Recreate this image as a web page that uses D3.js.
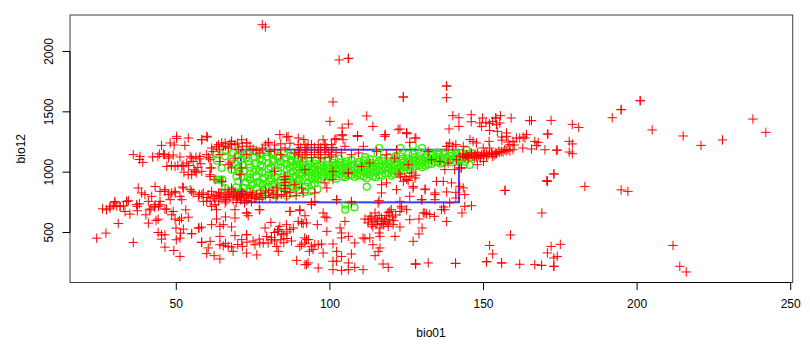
<!DOCTYPE html>
<html>
<head>
<meta charset="utf-8">
<script src="https://cdn.jsdelivr.net/npm/d3@7"></script>
<style>
  html, body { margin: 0; padding: 0; background: #fff; }
  svg { display: block; }
  text { font-family: "Liberation Sans", Arial, sans-serif; font-size: 12px; fill: #000; }
</style>
</head>
<body>
<svg width="810" height="345"></svg>
<script>
var xTicks = [50, 100, 150, 200, 250];
var yTicks = [500, 1000, 1500, 2000];
var xLabel = "bio01";
var yLabel = "bio12";

// envelope drawn as a blue rectangle: [bio01 min, bio01 max], [bio12 min, bio12 max]
var envelopeX = [71, 142];
var envelopeY = [750, 1186];

// presence points, green circles
var greenPoints = [
  [105,730],[105,689],[108,708],[112,880],[127,1222],[130,1200],[123,1200],[116,1200],
  [63.2,1095],[64.8,1035],[68,1021],[63.2,938],[64.2,938],[65,938],[65.9,869],[69.6,965],[62.6,1159],[65.9,1131],
  [70,1140],[71,1105],[71.5,1060],[72,1010],[72,960],[72.5,915],[72,870],[71.5,835],[73,1150],[73.5,1090],[74,1040],[74,985],[74,940],[74.5,890],[74,845],[75,810],
  [75.5,1125],[76,1075],[76,1020],[76,965],[76.5,920],[76,870],[76.5,825],[77.5,1150],[78,1095],[78,1045],[78,995],[78,945],[78,895],[78.5,850],[78,805],
  [79.5,1130],[80,1075],[80,1025],[80,975],[80.5,925],[80,880],[80,830],[81.5,1105],[82,1055],[82,965],[82,905],[82,855],[82,810],
  [83.5,1135],[84,1085],[84,1040],[84,930],[84,880],[84,830],[85.5,1115],[86,1070],[86,1020],[86,975],[86,945],[86,895],[86,850],[86,805],
  [87.5,1095],[88,1055],[88,1005],[88,960],[88,915],[88,870],[88,825],[89.5,1110],[90,1070],[90,1035],[90,990],[90,945],[90,900],[90,850],
  [91.5,1085],[92,1045],[92,1000],[92,960],[92,880],[92,835],[93.5,1065],[94,1025],[94,985],[94,950],[94,890],[94,845],[95.5,1100],[96,1055],[96,1015],[96,975],[96,940],[96,860],
  [97.5,1085],[98,1040],[98,1000],[98,965],[99.5,1060],[100,1020],[100,985],[100,955],[101.5,1105],[102,1065],[102,1025],[102,985],[102,945],
  [103.5,1080],[104,1040],[104,1005],[104,965],[105.5,1090],[106,1050],[106,1010],[106,975],[107.5,1065],[108,1030],[108,995],[108,960],
  [109.5,1085],[110,1045],[110,1010],[110,975],[111.5,1125],[112,1060],[112,1020],[112,985],[112,950],[113.5,1075],[114,1035],[114,1000],[114,965],
  [115.5,1150],[116,1090],[116,1050],[116,1015],[116,975],[117.5,1115],[118,1065],[118,1030],[118,990],[119.5,1090],[120,1050],[120,1010],[120,970],
  [121.5,1135],[122,1075],[122,1035],[122,1000],[123.5,1110],[124,1080],[124,1045],[124,1010],[125.5,1150],[126,1095],[126,1060],[126,1020],
  [127.5,1125],[128,1085],[128,1050],[129.5,1165],[130,1110],[130,1075],[130,1040],[131.5,1140],[132,1100],[132,1065],[133.5,1155],[134,1120],[134,1085],
  [135.5,1145],[136,1105],[136,1070],[137.5,1165],[138,1125],[138,1090],[139.5,1155],[140,1115],[140,1080],[141.5,1140],[142,1105],[143,1160],[143.5,1120],[144,1085],[144.5,1185],[145,1150],[145.5,1060],
  [72.8,1122],[73.6,1063],[75.2,1003],[73.2,958],[75.1,903],[73.8,862],[77.1,1108],[77.4,1058],[76.9,1012],[78.6,958],[77.2,908],[79.2,868],[81.1,1146],[81.4,1088],[80.7,1042],[81.2,992],[80.9,948],[81.3,896],
  [83,1118],[83.4,1062],[83.1,1008],[84.7,958],[83.2,912],[85.2,868],[87.1,1135],[87.2,1082],[86.9,1038],[87.3,992],[87.1,938],[87.4,888],[89.1,1086],[89.3,1048],[89.2,1012],[89,968],[89.4,925],[89.2,878],
  [91.1,1062],[91.2,1018],[91,978],[93.2,1092],[93.1,1045],[93.3,1003],[93,968],[92.8,912],[95,1072],[95.1,1034],[95.3,995],[95.2,958],[95,905],[97.1,1058],[97,1018],[97.3,982],[97.2,948],
  [99.1,1092],[99,1038],[99.2,1003],[99.3,972],[101,1078],[101.2,1043],[101.1,1005],[101,968],[103,1112],[103.2,1058],[103.1,1022],[103.3,985],[105,1068],[105.2,1028],[105.1,992],[105,958],
  [107,1102],[107.2,1048],[107.1,1012],[107,978],[109,1065],[109.2,1028],[109.1,992],[109,972],[111,1098],[111.2,1038],[111.1,1002],[111,962],[113,1108],[113.2,1052],[113.1,1018],[113,982],
  [115,1072],[115.2,1032],[115.1,998],[115,958],[117,1092],[117.2,1048],[117.1,1012],[117,972],[119,1128],[119.2,1068],[119.1,1032],[119,992],[121,1108],[121.2,1062],[121.1,1022],[121,985],
  [123,1132],[123.2,1092],[123.1,1058],[123,1024],[125,1115],[125.2,1078],[125.1,1042],[127,1148],[127.2,1105],[127.1,1068],[127,1032],[129,1132],[129.2,1092],[129.1,1058],[131,1122],[131.2,1085],[131.1,1052],
  [133,1138],[133.2,1102],[133.1,1068],[135,1162],[135.2,1125],[135.1,1088],[137,1148],[137.2,1108],[137.1,1078],[139,1135],[139.2,1098],[141,1160],[141.2,1122],[141.1,1088],[143,1105],[146,1125],[146.5,1155],
  [66,1175],[68.5,1160],[70.5,1180],[73.5,1175],[76,1170],[79,1165],[82,1162],[85,1155],[88,1150],[68,1110],[69,1075],[70,1038],[70.5,1002],[70.2,925],[69.5,875],[70.5,835]
];

// background points, red pluses
var redPoints = [
  [78,2222],[79,2203],[103,1930],[106,1943],[106,1943],[138,1714],[138,1714],[138,1617],[123.9,1623],[123.9,1623],[101,1582],[100,1421],[112,1466],[114,1379],[106,1399],[104,1366],[104,1302],[102,1278],[109,1302],[109,1302],[118,1311],[118,1311],[122.2,1352],[122.8,1358],[125,1325],[125,1325],[128,1283],[126,1247],
  [140,1468],[142,1451],[142,1379],[138.8,1358],[146,1476],[146,1418],[149.7,1449],[148.8,1408],[150.8,1413],[149.4,1379],[152,1402],[153,1421],[154,1449],[154,1449],[154.2,1394],[155.3,1408],[155.5,1468],[152,1346],[154.5,1338],[159,1449],[165,1427],[165.6,1427],[172,1429],[171,1316],
  [157.5,1297],[155.9,1291],[157.5,1325],[159.6,1255],[158.6,1228],[160.7,1283],[161.8,1283],[162.9,1291],[164,1311],[163.5,1283],[166.7,1255],[167.8,1247],[167.3,1220],[170,1186],[173.8,1181],[145.6,1270],[146.6,1255],[151.8,1255],[149.9,1200],[152,1200],[162.8,1200],[165.6,1192],[156,1265],[158,1250],[160,1225],
  [143.4,1131],[144.5,1145],[146.1,1145],[147.2,1145],[148.3,1137],[149.4,1145],[150.4,1159],[151.5,1145],[152.6,1159],[153.7,1145],[154.8,1172],[155.9,1172],[156.9,1186],[158,1186],[159.6,1186],[145,1117],[147,1117],[149,1117],[151,1130],[153,1130],[148,1062],[150,1089],[142.8,1035],[142.8,1035],[146,1159],[150,1130],[148,1160],[154,1160],
  [145.2,1128],[146.6,1133],[147.7,1127],[148.9,1131],[150,1137],[151,1150],[152,1153],[153,1148],[154.2,1155],[155.3,1165],[156.4,1168],[157.4,1178],[158.6,1176],[144,1120],[144.6,1138],[143.2,1150],
  [178.9,1396],[181,1371],[191.9,1451],[194.8,1518],[194.8,1518],[201,1592],[201,1592],[204.9,1350],[215,1300],[220.8,1222],[227.8,1267],[237.7,1440],[241.9,1330],[170.8,1316],[177.9,1255],[178.9,1234],[174,1184],[177.9,1167],[178.9,1153],[172.9,985],[172.9,985],[170.8,924],[170.8,924],[183,882],[194.8,853],[197,841],[169,662],[175,402],[172,385],[211.7,393],[170.8,331],[174,302],[172.9,289],[213.9,220],[216,173],[168.9,228],[168.9,228],[172.9,220],[172.9,220],
  [157,849],[157,849],[158.8,480],[170.6,930],[152,393],[153,322],[151,258],[151,258],[155.9,248],[155.9,248],[161.8,237],[166.7,234],[140.9,244],[140.9,244],[140.9,244],[127.9,239],[127.9,239],[127.9,239],[132,248],
  [143,662],[146.1,722],[143.9,717],[138,592],[134,634],[130.9,662],[136.3,689],[137,711],[130,772],[134.2,828],[138,836],[141,833],[143.9,814],[143.4,869],[141,786],[131,861],[127.1,869],[126,800],[122.8,758],[116,764],[131.5,655],[132.5,650],
  [129,612],[126,606],[130,538],[129,488],[127.1,427],[122.8,546],[121.2,468],[122.8,675],[123.3,703],[120,689],[120.4,629],[119.5,606],[118.2,592],[116.8,620],[117.4,565],[115,565],[116.3,538],[114.7,662],[113.6,620],[112.5,606],[111.4,612],[113.6,565],[120.6,565],[119,551],[117,590],[115.5,595],[118.5,640],[116,640],
  [114.4,592],[112.4,580],[113.1,635],[115,612],[117.8,608],[118.9,578],[120.8,598],[121.4,645],[119,665],[116.7,575],[114,548],
  [116.3,468],[113,455],[110.8,455],[111.4,448],[116,496],[114,399],[116.3,372],[115.7,344],[114.7,308],[117.3,239],[119,211],[110.8,192],[108.1,211],[106,192],[103.8,186],[101,192],[106,248],[101,262],[102.2,262],[96.2,206],[91.9,234],[92.9,248],[103.8,302],[107,322],[102.2,344],[101,405],[108.1,413],[106,468],[103.8,455],[103.3,538],[104.9,592],[103.8,496],[99,510],[98.4,629],[99,622],
  [95.9,565],[91.9,639],[94,731],[90.8,579],[91.3,573],[97.3,405],[95.1,399],[96.2,399],[94,385],[94.5,358],[93.3,344],[97.8,330],[93,441],[90.8,399],[91.9,413],[102.2,772],[107,758],
  [104,1311],[109,1302],[125,1319],[138,1214],[139,1240],[141,1228],[143.4,1214],[147.7,1242],
  [72.9,1242],[80,1242],[86.4,1297],[89.7,1283],[91.5,1270],[92.9,1228],[97.8,1269],[98.4,1228],[101.6,1269],[104.3,1269],[104.9,1214],[103.8,1160],
  [89.7,1228],[91.9,1228],[94,1228],[96.2,1228],[98.4,1228],[100.5,1228],[89.7,1186],[91.9,1186],[94,1186],[96.2,1186],[98.4,1186],[100.5,1186],[89.7,1145],[91.9,1145],[94,1145],[96.2,1145],[98.4,1145],[100.5,1145],[90.5,1205],[92.5,1205],[95,1205],[97,1205],[99,1205],[101,1205],[90,1165],[92.5,1165],[95,1165],[97,1165],[99.5,1165],[102,1165],[91,1125],[94,1120],[97,1120],[100,1125],
  [72.9,1145],[77.2,1159],[80.5,1172],[85.4,1200],[88.6,1159],[82,1007],[85.4,965],[91.9,1021],[101,1007],[106,993],[71.3,1035],[70.7,979],[75,1190],[78,1200],[82,1185],[84,1145],
  [85.4,940],[85.4,915],[85.4,890],[85.4,865],[85.4,840],[82.7,869],[80,828],[85.9,800],[81.5,850],[76.2,814],[71.3,841],[69.7,786],[72.3,786],[74.5,800],[90.8,869],[91.3,828],[88.6,896],[95.1,828],[99,869],[98.4,911],[101,938],[102.2,772],[107,745],[95.1,758],[90.2,689],[94,748],[87,675],[77.2,689],[72.9,662],[97.8,662],[83,810],[78,790],[79,845],[87,830],[89,805],
  [109,1297],[117.9,1297],[127.7,1283],[115.2,1172],[107,1145],[110.9,1214],[109.3,1159],[121.7,1186],[118.4,1145],[121.1,1117],[113,1076],[110.3,1048],[106,993],[125.5,1062],[133.1,1103],[135.8,1089],[138.5,1076],[140,1214],[138.5,1214],[132,1172],[142.3,1131],[141.2,1103],[142.3,1035],[137.4,1021],[140.6,1021],
  [124.4,965],[126.6,993],[127.7,952],[126,965],[123.9,924],[127.1,882],[118.4,911],[121.7,855],[116.8,828],[131,855],[134.2,814],[129.8,772],[134.2,772],[123.3,717],[115.7,745],[139,745],[125,689],[119.5,675],[130.4,662],[137.4,689],[139.6,911],[136.9,924],[134.7,924],[142.3,882],[116.8,896],[125,940],[123,960],[125.5,930],[128,975],[122.5,985],
  [50.1,1297],[50.1,1280],[53.9,1283],[52.8,1222],[48,1242],[49.3,1225],[60.1,1291],[58.3,1269],[36,1145],[38.2,1131],[38,1105],[39.1,1081],[42.3,1126],[44.5,1151],[45.2,1222],[46.1,1145],[45.8,1150],[47.4,1117],[46.9,1048],[49.6,1048],[51.2,1126],[51.8,1048],[54.5,1131],[55.5,1089],[55,1117],[53.4,1076],[55,979],[53.9,979],[56.1,1007],[58.3,1007],[57.7,1131],[59.9,1145],[61.5,1200],[63.7,1228],[64.8,1242],[65.9,1242],[68,1255],[68,1228],[66.9,1200],[69.1,1228],[70.2,1186],[64.2,1145],[61,1103],[61,1035],[61,965],[62.6,938],[66.9,1062],[69.1,1117],[68,1035],[55.8,1020],[56.5,995],[57,1040],[54,1055],[52.5,1000],[58,1070],
  [48.4,1055],[50.5,1055],[52.2,1058],[47.6,1132],[49,1143],[44,1130],[56.4,1125],[57.5,1110],[60.5,1120],[62,1170],[64,1190],[66,1215],[67.5,1235],[70,1240],[71.5,1215],
  [37.6,869],[38.7,828],[39.8,814],[42,800],[40.9,758],[43.1,882],[44.7,841],[46.3,841],[47.4,814],[48.5,828],[49.6,828],[51.2,800],[52.1,877],[44.7,758],[37.1,731],[33.9,758],[30,745],[31.7,717],[28.4,717],[43.1,731],[44.2,717],[48,772],[51.8,772],[57.2,800],[58.3,814],[58.8,758],[60.4,814],[62,800],[62.6,731],[63.7,828],[64.2,786],[65.9,745],[66.9,814],[68,841],[69.1,828],[70,786],[65.9,855],[54.5,855],[55.5,828],
  [46.3,855],[49.6,841],[52.3,869],[55,841],[57.5,815],[58.8,828],[61.5,841],[64.2,828],[66.5,800],[68,855],[63,805],[60,790],[66,775],[68.5,770],[70,810],[72,815],[67.5,790],[69.5,800],[71,770],[73,765],[74,830],[75.5,780],
  [62.5,780],[64.6,812],[65.5,795],[67.2,828],[68.6,812],[70.5,797],[71.6,825],[72.8,805],[73.6,785],[74.8,815],[76,795],[77,775],[77.5,825],[79,805],[80.5,790],[81.5,815],[82.5,795],[84.2,815],[61,760],[66.2,760],[63.8,760],[69.5,748],[72.2,745],[74.5,755],
  [24.1,453],[27.1,495],[36,418],[31.1,575],[26,696],[27.3,688],[28.4,702],[30,757],[29.5,721],[30.6,721],[31.7,716],[32.8,721],[33.8,757],[34.4,763],[33.3,674],[34.9,652],[37.3,716],[38,738],[37.3,680],[40.1,647],[41.2,688],[40.9,578],[41.7,695],[42.8,716],[44.1,611],[43.4,600],[44.7,730],[43,710],[46.3,694],[46.8,694],[49,674],[48.5,647],[49.6,611],[51.7,619],[53.9,627],[53.1,688],[51,600],
  [49.9,536],[44.1,500],[45.2,481],[46.3,481],[45.2,445],[46.3,379],[49.2,351],[51.2,302],[50,440],[51.2,453],[51.4,495],[52.3,528],[55,489],[57.2,536],[58.2,545],[58.2,420],[61.5,717],[59.9,758],[63.1,689],[66,629],[69.1,620],[69.1,689],[72.9,662],[73.4,639],[77,689],[63.1,612],[61.5,565],[64.2,551],[65.3,565],[68,546],[57.4,538],
  [55,491],[58.3,418],[61,427],[60.4,372],[59.9,325],[62.3,308],[64.2,281],[64.2,399],[65.3,390],[66.9,385],[68,380],[68.5,344],[69.1,474],[64.2,468],[71.3,441],[72.9,482],[72.9,482],[71.5,385],[72.9,330],[76.2,314],[75.6,399],[77.2,413],[79.4,468],[78.9,538],[80.8,584],[83.7,551],[83.2,525],[84.3,482],[80.9,441],[79.9,413],[78.3,413],[82.7,385],[83.2,344],[89.2,269],[92.4,234],[87,675],[90.2,681],[89.7,592],[92.4,579],[87,524],[85.9,565],[88.1,538],[90.2,385],[92.4,441],[91.8,455],
  [82,500],[83,510],[85,490],[86,505],[81,460],[84,440],[86,450],[87.5,430],[85,415],[82,430],[77,445],[75,430],[73,420],[70,400],[66,410],
  [59.9,1297],[58.3,1269],[63.1,1214],[65.3,1214],[68,1255],[71.3,1269],[72.9,1242],[79.9,1247],[83.7,1311],[85.9,1291],[64.2,1089],[61.5,1035],[61,979],[64.8,924],[64.8,924],[68,869],[67.5,1076],[74,1215],[76,1180],[79,1225],[82,1225],[84,1235],[87,1240]
];

var svg = d3.select("svg");

var x = d3.scaleLinear().domain([15.4, 250.65]).range([70, 792.7]);
var y = d3.scaleLinear().domain([85.8, 2302.4]).range([282.5, 15]);

// envelope sits at the bottom, then green, then red on top
svg.append("rect")
  .attr("x", x(envelopeX[0]))
  .attr("y", y(envelopeY[1]))
  .attr("width", x(envelopeX[1]) - x(envelopeX[0]))
  .attr("height", y(envelopeY[0]) - y(envelopeY[1]))
  .attr("fill", "none")
  .attr("stroke", "#3c3cff")
  .attr("stroke-width", 2);

svg.append("g")
  .selectAll("circle")
  .data(greenPoints)
  .enter().append("circle")
  .attr("cx", function(d) { return x(d[0]); })
  .attr("cy", function(d) { return y(d[1]); })
  .attr("r", 3.4)
  .attr("fill", "none")
  .attr("stroke", "#33f000")
  .attr("stroke-width", 1.4);

svg.append("g")
  .selectAll("path")
  .data(redPoints)
  .enter().append("path")
  .attr("d", "M-4.7,0H4.7M0,-4.7V4.7")
  .attr("transform", function(d) { return "translate(" + x(d[0]) + "," + y(d[1]) + ")"; })
  .attr("fill", "none")
  .attr("stroke", "#ff0000")
  .attr("stroke-width", 1);

// box first, axes over it so the axis line goes darker between the ticks
svg.append("rect")
  .attr("x", 70).attr("y", 15)
  .attr("width", 722.7).attr("height", 267.5)
  .attr("fill", "none")
  .attr("stroke", "#000")
  .attr("stroke-width", 1)
  .attr("opacity", 0.75);

var xAxis = svg.append("g")
  .attr("transform", "translate(0,282.5)")
  .call(d3.axisBottom(x).tickValues(xTicks).tickFormat(d3.format("d")).tickSize(7.5).offset(0));
xAxis.select(".domain").attr("d", "M" + x(xTicks[0]) + ",0H" + x(xTicks[xTicks.length - 1]));
xAxis.selectAll("text").attr("y", 0).attr("dy", null)
  .attr("transform", "translate(0,25.8)")
  .style("font-size", "12px");

var yAxis = svg.append("g")
  .attr("transform", "translate(70,0)")
  .call(d3.axisLeft(y).tickValues(yTicks).tickFormat(d3.format("d")).tickSize(7.5).offset(0));
yAxis.select(".domain").attr("d", "M0," + y(yTicks[0]) + "V" + y(yTicks[yTicks.length - 1]));
yAxis.selectAll("text")
  .attr("x", 0).attr("y", 0).attr("dy", null)
  .attr("text-anchor", "middle")
  .attr("transform", "translate(-16.7,0) rotate(-90)")
  .style("font-size", "12px");

svg.selectAll(".domain, .tick line").attr("stroke", "#000").attr("stroke-width", 1);
svg.selectAll(".tick text").attr("fill", "#000").attr("font-family", null);

svg.append("text")
  .attr("x", 431).attr("y", 337)
  .attr("text-anchor", "middle")
  .text(xLabel);

svg.append("text")
  .attr("transform", "translate(25,148.7) rotate(-90)")
  .attr("text-anchor", "middle")
  .text(yLabel);
</script>
</body>
</html>
